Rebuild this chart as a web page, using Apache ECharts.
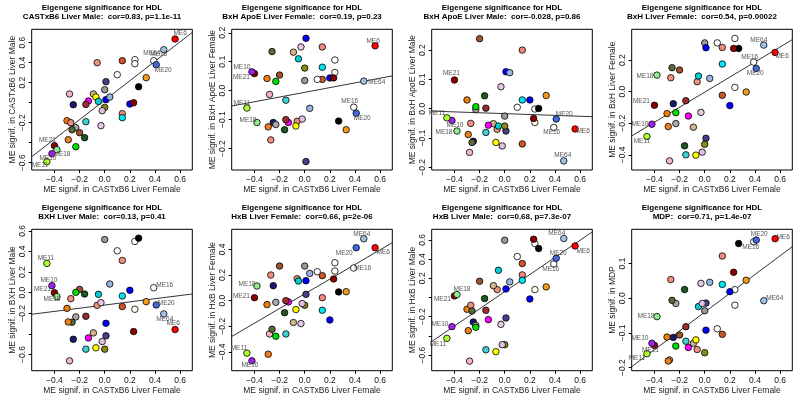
<!DOCTYPE html>
<html><head><meta charset="utf-8">
<script src="https://cdn.jsdelivr.net/npm/echarts@6/dist/echarts.min.js"></script>
<style>html,body{margin:0;padding:0;background:#fff}#c{width:800px;height:402px}</style>
</head><body><div id="c"></div>
<script>
// ---------- DATA ----------
const moduleNames = ['ME6','ME64','ME16','ME20','','','','','','','','','','','','','','','','','','','','','','','','','','','','','','','','','','','ME21','ME18','ME10','ME11'];
const moduleColors = ['#FF0000','#9DC3E6','#FFFFFF','#4169E1','#FFFFFF','#FFFFF0','#E9967A','#CD5528','#FFFFFF','#F29A1F',
  '#483D8B','#999999','#000000','#F2B5C4','#D2B48C','#FFFF00','#FF00FF','#00CED1','#0000FF','#98B4DE',
  '#191970','#9B2D2D','#8B8B10','#E0C0E0','#0000FF','#8B0000','#F08A80','#00E5EE','#F07F10','#F0907E',
  '#40D0D0','#E6C8E6','#A8A8A8','#5A6B3A','#A0522D','#1A5A1A','#EE7F1A','#00E000','#8B0000','#90EE90',
  '#A020F0','#ADFF2F'];
const xCastFemale = [0.56,0.47,0.39,0.41,0.24,0.24,-0.06,0.14,0.10,0.33,
  0.01,0.00,0.27,-0.28,-0.09,-0.07,-0.13,-0.05,0.01,0.04,
  -0.25,-0.15,0.00,-0.02,0.20,0.23,0.14,0.14,-0.30,-0.27,
  -0.15,-0.03,-0.23,-0.26,-0.20,-0.16,-0.29,-0.23,-0.40,-0.38,
  -0.42,-0.46];
const yCastMale = [0.637,0.53,0.42,0.38,0.43,0.39,0.40,0.42,0.28,0.25,
  0.21,0.13,0.16,0.087,0.087,0.057,0.017,0.013,0.03,0.057,
  -0.02,-0.017,-0.047,-0.08,-0.013,0.0,-0.11,-0.15,-0.18,-0.20,
  -0.19,-0.23,-0.25,-0.27,-0.30,-0.35,-0.37,-0.44,-0.43,-0.47,
  -0.51,-0.59];
const yApoeFemale = [0.155,0.033,-0.057,-0.078,0.106,0.063,-0.106,0.039,0.039,-0.135,
  -0.245,0.035,-0.105,-0.013,0.133,-0.122,-0.11,0.11,0.181,-0.061,
  -0.11,-0.10,0.078,-0.098,0.044,0.044,0.151,0.081,0.042,-0.17,
  -0.033,0.151,-0.117,0.135,0.054,-0.135,-0.125,0.032,0.059,-0.11,
  0.065,-0.06];
const yApoeMale = [-0.069,-0.178,-0.064,-0.035,-0.001,-0.047,-0.07,-0.12,0.005,0.045,
  -0.076,-0.025,0.001,-0.149,-0.051,-0.115,-0.056,-0.059,0.126,0.123,
  -0.111,0.002,-0.059,-0.127,0.03,-0.033,0.2,0.03,0.03,-0.05,
  -0.081,0.075,-0.003,-0.115,0.239,0.044,-0.088,0.007,0.098,-0.076,
  -0.04,-0.031];
const yBxhFemale = [0.248,0.295,0.187,0.147,0.337,0.027,0.063,-0.023,0.309,-0.002,
  -0.295,0.309,0.274,-0.438,-0.225,-0.402,-0.154,0.099,0.278,0.084,
  -0.076,-0.057,-0.333,-0.383,-0.088,0.274,0.28,0.175,-0.139,0.088,
  -0.4,-0.131,-0.202,0.152,0.137,-0.343,-0.221,-0.133,-0.086,0.105,
  -0.206,-0.284];
const yBxhMale = [-0.358,-0.206,0.048,-0.119,0.497,-0.161,-0.123,-0.135,0.406,-0.087,
  -0.419,0.516,0.529,-0.661,-0.39,-0.535,-0.439,-0.016,-0.297,0.084,
  -0.452,-0.229,-0.548,-0.474,0.023,-0.377,0.313,-0.032,-0.152,-0.058,
  -0.548,-0.097,-0.235,-0.287,0.032,-0.013,-0.284,0.003,0.0,-0.039,
  0.068,0.284];
const yHxbFemale = [0.413,0.483,0.255,0.413,0.296,0.231,0.171,0.195,0.226,0.07,
  0.049,0.27,0.068,-0.26,-0.171,-0.07,-0.01,0.153,0.156,0.213,
  0.117,0.0,-0.036,-0.023,-0.151,0.169,0.023,-0.075,-0.031,0.2,
  -0.26,-0.179,-0.013,-0.223,0.27,-0.094,-0.418,-0.278,0.023,0.114,
  -0.47,-0.41];
const yHxbMale = [0.537,0.614,0.349,0.409,0.562,0.082,0.082,0.353,0.426,0.11,
  -0.214,0.596,0.51,-0.663,0.123,-0.565,-0.231,0.283,0.089,0.162,
  -0.256,-0.134,-0.492,-0.492,-0.016,0.607,0.235,0.179,-0.123,-0.082,
  -0.545,-0.28,-0.29,-0.141,0.169,-0.012,-0.346,-0.311,0.016,0.03,
  -0.304,-0.426];
const yMdp = [0.172,-0.007,0.163,0.168,0.025,-0.02,-0.148,-0.104,-0.088,0.052,
  -0.014,-0.036,0.158,-0.178,-0.13,-0.12,-0.142,-0.024,-0.092,0.046,
  -0.113,-0.082,-0.157,-0.015,0.019,0.075,0.122,0.04,-0.112,0.054,
  -0.124,0.043,-0.015,-0.006,-0.106,0.025,-0.181,-0.138,-0.136,-0.053,
  -0.13,-0.16];
// fitted regression lines (intercept, slope)
const fitIntercepts = [0.025,-0.0057,-0.0167,-0.003,-0.120,0.053,0.060,-0.040];
const fitSlopes = [0.973,0.0814,-0.0149,0.477,0.154,0.573,0.894,0.271];

const xTicks = [-0.4,-0.2,0,0.2,0.4,0.6];
const mainTitle = 'Eigengene significance for HDL';
const xTitle = 'ME signif. in CASTxB6 Liver Female';
const subTitles = ['CASTxB6 Liver Male:  cor=0.83, p=1.1e-11','BxH ApoE Liver Female:  cor=0.19, p=0.23',
  'BxH ApoE Liver Male:  cor=-0.028, p=0.86','BxH Liver Female:  cor=0.54, p=0.00022',
  'BXH Liver Male:  cor=0.13, p=0.41','HxB Liver Female:  cor=0.66, p=2e-06',
  'HxB Liver Male:  cor=0.68, p=7.3e-07','MDP:  cor=0.71, p=1.4e-07'];
const yTitles = ['ME signif. in CASTxB6 Liver Male','ME signif. in BxH ApoE Liver Female',
  'ME signif. in BxH ApoE Liver Male','ME signif. in BxH Liver Female','ME signif. in BXH Liver Male',
  'ME signif. in HxB Liver Female','ME signif. in HxB Liver Male','ME signif. in MDP'];
const yTickSets = [[-0.6,-0.4,-0.2,0,0.2,0.4,0.6],[-0.2,-0.1,0,0.1,0.2],[-0.2,-0.1,0,0.1,0.2],[-0.4,-0.2,0,0.2],
  [-0.6,-0.4,-0.2,0,0.2,0.4,0.6],[-0.4,-0.2,0,0.2,0.4],[-0.6,-0.4,-0.2,0,0.2,0.4,0.6],[-0.2,-0.1,0,0.1,0.2]];
const yLabelSets = [[-0.6,-0.2,0.2,0.4,0.6],[-0.2,-0.1,0,0.1,0.2],[-0.2,-0.1,0,0.1,0.2],[-0.4,-0.2,0,0.2],
  [-0.6,-0.2,0,0.2,0.4,0.6],[-0.4,-0.2,0,0.2,0.4],[-0.6,-0.2,0.2,0.4,0.6],[-0.2,-0.1,0,0.1,0.2]];
const yValueSets = [yCastMale,yApoeFemale,yApoeMale,yBxhFemale,yBxhMale,yHxbFemale,yHxbMale,yMdp];

// ---------- LAYOUT / STYLE ----------
const xRange = [-0.581, 0.697];
const yRanges = [[-0.673,0.734],[-0.274,0.212],[-0.209,0.271],[-0.496,0.395],
  [-0.757,0.615],[-0.547,0.557],[-0.763,0.71],[-0.209,0.199]];
const labelOffsets = [
 {ME6:[5,-6],ME64:[-12,4],ME16:[5,-6],ME20:[7,6],ME21:[-7,-5],ME18:[5,5],ME10:[-4,5],ME11:[-7,4]},
 {ME6:[-2,-5],ME10:[-10,-5],ME21:[-13,4],ME64:[13,1],ME11:[-5,-5],ME16:[-4,-6],ME20:[6,5],ME18:[-9,-2]},
 {ME21:[-3,-7],ME11:[-10,-5],ME10:[3,5],ME18:[-13,1],ME20:[8,-5],ME16:[-2,5],ME6:[8,2],ME64:[-1,-6]},
 {ME64:[-5,-5],ME6:[7,4],ME16:[-4,-5],ME20:[-1,5],ME18:[-12,1],ME21:[-13,-4],ME10:[-12,0],ME11:[-5,5]},
 {ME11:[-1,-5],ME10:[-3,-5],ME21:[-12,-3],ME18:[-5,3],ME16:[11,-3],ME20:[10,-2],ME64:[1,5],ME6:[-2,-6]},
 {ME64:[-2,-5],ME20:[-12,5],ME6:[8,4],ME16:[9,0],ME18:[-10,-2],ME21:[-13,-1],ME11:[-8,-5],ME10:[-2,4]},
 {ME64:[-7,-5],ME6:[8,5],ME20:[2,-5],ME16:[-3,5],ME18:[5,-5],ME21:[-12,3],ME10:[-12,-2],ME11:[-9,6]},
 {ME20:[3,-6],ME6:[8,-1],ME16:[-3,5],ME64:[11,-2],ME18:[-11,0],ME10:[-12,-5],ME21:[-4,5],ME11:[-10,4]}
];
const FONT = '"Liberation Sans", Arial, Helvetica, sans-serif';
const fmt = v => (v < 0 ? '\u2212' : '') + Math.abs(v).toFixed(1);

const grids = [], xAxes = [], yAxes = [], series = [], graphics = [];
for (let p = 0; p < 8; p++) {
  const col = p % 4, row = Math.floor(p / 4);
  const gTop = row ? 229.3 : 29.3, gH = row ? 141.4 : 140.7;
  grids.push({left: col*200 + 31.7, top: gTop, width: 160.6, height: gH, show: true,
    borderColor: '#000', borderWidth: 1, backgroundColor: 'transparent', containLabel: false});
  xAxes.push({type: 'value', gridIndex: p, min: xRange[0], max: xRange[1],
    name: xTitle, nameLocation: 'middle', nameGap: 15,
    nameTextStyle: {fontSize: 8.5, color: '#222', fontFamily: FONT},
    axisLine: {show: false, onZero: false}, splitLine: {show: false},
    axisTick: {show: true, length: 3, lineStyle: {color: '#000'}, customValues: xTicks},
    axisLabel: {fontSize: 8.5, color: '#111', fontFamily: FONT, margin: 5, formatter: fmt, customValues: xTicks}});
  yAxes.push({type: 'value', gridIndex: p, min: yRanges[p][0], max: yRanges[p][1],
    name: yTitles[p], nameLocation: 'middle', nameGap: 14,
    nameTextStyle: {fontSize: 8.5, color: '#222', fontFamily: FONT},
    axisLine: {show: false, onZero: false}, splitLine: {show: false},
    axisTick: {show: true, length: 3, lineStyle: {color: '#000'}, customValues: yTickSets[p]},
    axisLabel: {fontSize: 8.5, color: '#111', fontFamily: FONT, margin: 5, rotate: 90,
      formatter: fmt, customValues: yLabelSets[p]}});
  const ys = yValueSets[p];
  const a = fitIntercepts[p], b = fitSlopes[p];
  series.push({type: 'line', xAxisIndex: p, yAxisIndex: p, symbol: 'none', silent: true, clip: true,
    lineStyle: {color: '#333', width: 1}, z: 2,
    data: [[xRange[0], a + b*xRange[0]], [xRange[1], a + b*xRange[1]]]});
  const pts = xCastFemale.map((x, i) => {
    const item = {value: [x, ys[i]], itemStyle: {color: moduleColors[i]}};
    const nm = moduleNames[i];
    if (nm) {
      const off = labelOffsets[p][nm] || [6, 0];
      item.label = {show: true, formatter: nm, position: 'inside', offset: off,
        fontSize: 6.5, color: '#555', fontFamily: FONT};
    }
    return item;
  });
  series.push({type: 'scatter', xAxisIndex: p, yAxisIndex: p, symbol: 'circle', symbolSize: 6.5,
    itemStyle: {borderColor: '#000', borderWidth: 0.8, opacity: 1}, z: 3,
    label: {show: false}, emphasis: {disabled: true}, data: pts});
  const cx = col*200 + 102, ty = row*200;
  graphics.push({type: 'text', x: cx, y: ty + 7.3, style: {text: mainTitle, textAlign: 'center',
    textVerticalAlign: 'middle', font: 'bold 8px ' + FONT, fill: '#000'}});
  graphics.push({type: 'text', x: cx, y: ty + 16.7, style: {text: subTitles[p], textAlign: 'center',
    textVerticalAlign: 'middle', font: 'bold 8px ' + FONT, fill: '#000'}});
}

const chart = echarts.init(document.getElementById('c'), null, {renderer: 'canvas'});
chart.setOption({animation: false, backgroundColor: '#fff', grid: grids, xAxis: xAxes, yAxis: yAxes,
  series: series, graphic: graphics});
</script></body></html>
